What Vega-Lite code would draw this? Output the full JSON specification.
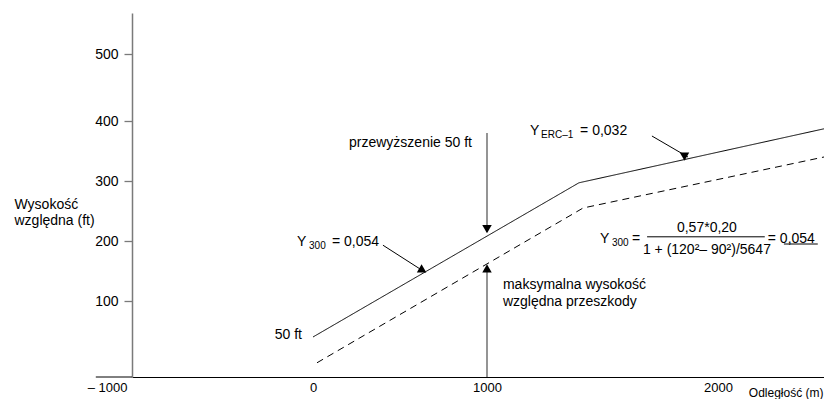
{
  "$schema": "https://vega.github.io/schema/vega-lite/v6.json",
  "width": 692,
  "height": 364,
  "autosize": {"type": "none"},
  "padding": {"left": 132, "top": 13, "right": 0, "bottom": 22},
  "background": "white",
  "config": {
    "view": {"stroke": null},
    "font": "Liberation Sans",
    "text": {"font": "Liberation Sans"}
  },
  "datasets": {
    "lines": [
      {"series": "solid", "x": 0, "y": 40},
      {"series": "solid", "x": 1398, "y": 297},
      {"series": "solid", "x": 2460, "y": 387},
      {"series": "dashed", "x": 23, "y": -3},
      {"series": "dashed", "x": 1416, "y": 255},
      {"series": "dashed", "x": 2460, "y": 340}
    ],
    "segs": [
      {"kind": "gray", "x": 1000, "x2": 1000, "y": 380, "y2": 215},
      {"kind": "gray", "x": 1000, "x2": 1000, "y": -27, "y2": 158},
      {"kind": "black", "x": 402, "x2": 644, "y": 193, "y2": 148},
      {"kind": "black", "x": 1714, "x2": 1870, "y": 375, "y2": 340},
      {"kind": "black", "x": 1693, "x2": 2203, "y": 207, "y2": 207},
      {"kind": "black", "x": 2286, "x2": 2433, "y": 195, "y2": 195},
      {"kind": "black", "x": -1200, "x2": -1000, "y": -27, "y2": -27}
    ],
    "heads": [
      {"dir": "down", "x": 1000, "y": 222},
      {"dir": "up", "x": 1000, "y": 152},
      {"dir": "y300", "x": 624, "y": 152},
      {"dir": "erc", "x": 1855, "y": 343}
    ],
    "labels": [
      {"role": "left", "x": 207, "y": 363, "text": "przewyższenie 50 ft"},
      {"role": "right", "x": -61, "y": 43, "text": "50 ft"},
      {"role": "left", "x": -88, "y": 198, "text": "Y"},
      {"role": "sub", "x": -22, "y": 192, "text": "300"},
      {"role": "left", "x": 109, "y": 198, "text": "= 0,054"},
      {"role": "left", "x": 1186, "y": 383, "text": "Y"},
      {"role": "sub", "x": 1234, "y": 377, "text": "ERC–1"},
      {"role": "left", "x": 1403, "y": 383, "text": "= 0,032"},
      {"role": "left", "x": 1489, "y": 203, "text": "Y"},
      {"role": "sub", "x": 1541, "y": 196, "text": "300"},
      {"role": "left", "x": 1628, "y": 203, "text": "="},
      {"role": "center", "x": 1952, "y": 222, "text": "0,57*0,20"},
      {"role": "center", "x": 1952, "y": 185, "text": "1 + (120²– 90²)/5647"},
      {"role": "left", "x": 2216, "y": 203, "text": "= 0,054"},
      {"role": "left", "x": 1069, "y": 127, "text": "maksymalna wysokość"},
      {"role": "left", "x": 1069, "y": 98, "text": "względna przeszkody"}
    ]
  },
  "layer": [
    {
      "data": {"name": "lines"},
      "mark": {"type": "line", "color": "black", "strokeWidth": 1},
      "encoding": {
        "x": {
          "field": "x", "type": "quantitative",
          "scale": {"type": "linear", "domain": [-1000, 0, 1000, 2000, 2460], "range": [0, 181, 355, 586, 692], "zero": false, "nice": false},
          "axis": {
            "values": [-1000, 0, 1000, 2000],
            "format": "d",
            "labelExpr": "datum.value == -1000 ? '– 1000' : datum.label",
            "labelAlign": {"condition": {"test": "datum.value == -1000", "value": "right"}, "value": "center"},
            "labelOffset": {"condition": {"test": "datum.value == -1000", "value": -5}, "value": 0},
            "labelFontSize": 13, "labelColor": "black", "labelPadding": 4,
            "labelFlush": false, "labelOverlap": false, "labelBaseline": "top",
            "ticks": false, "tickSize": 0, "grid": false,
            "domainColor": "black", "domainWidth": 1,
            "title": "Odległość (m)", "titleFontSize": 12, "titleFontWeight": "normal", "titleColor": "black",
            "titleAlign": "right", "titleBaseline": "middle", "titleX": 691, "titleY": 15
          }
        },
        "y": {
          "field": "y", "type": "quantitative",
          "scale": {"domain": [-27, 0, 100, 200, 300, 400, 500, 560], "range": [364, 348, 288, 228, 168, 108, 41, 0], "zero": false, "nice": false},
          "axis": {
            "values": [100, 200, 300, 400, 500],
            "labelFontSize": 14, "labelColor": "black", "labelPadding": 6,
            "tickSize": 8, "tickColor": "#7a7a7a", "tickWidth": 1.3,
            "domainColor": "#7a7a7a", "domainWidth": 1.5, "grid": false,
            "title": ["Wysokość", "względna (ft)"], "titleFontSize": 14, "titleFontWeight": "normal", "titleColor": "black",
            "titleAngle": 0, "titleAlign": "left", "titleBaseline": "middle", "titleX": -118, "titleY": 191, "titleLineHeight": 16
          }
        },
        "strokeDash": {
          "field": "series", "type": "nominal",
          "scale": {"domain": ["solid", "dashed"], "range": [[1, 0], [7, 5]]},
          "legend": null
        }
      }
    },
    {
      "data": {"name": "segs"},
      "transform": [{"filter": "datum.kind == 'gray'"}],
      "mark": {"type": "rule", "color": "#7a7a7a", "strokeWidth": 1.6},
      "encoding": {
        "x": {"field": "x", "type": "quantitative"},
        "x2": {"field": "x2"},
        "y": {"field": "y", "type": "quantitative"},
        "y2": {"field": "y2"}
      }
    },
    {
      "data": {"name": "segs"},
      "transform": [{"filter": "datum.kind == 'black'"}],
      "mark": {"type": "rule", "color": "black", "strokeWidth": 1},
      "encoding": {
        "x": {"field": "x", "type": "quantitative"},
        "x2": {"field": "x2"},
        "y": {"field": "y", "type": "quantitative"},
        "y2": {"field": "y2"}
      }
    },
    {
      "data": {"name": "heads"},
      "mark": {"type": "point", "shape": "triangle", "filled": true, "color": "black", "opacity": 1, "size": 90},
      "encoding": {
        "x": {"field": "x", "type": "quantitative"},
        "y": {"field": "y", "type": "quantitative"},
        "angle": {"field": "dir", "type": "nominal", "scale": {"domain": ["up", "down", "y300", "erc"], "range": [0, 180, 123, 120]}, "legend": null}
      }
    },
    {
      "data": {"name": "labels"},
      "transform": [{"filter": "datum.role == 'left'"}],
      "mark": {"type": "text", "align": "left", "baseline": "middle", "fontSize": 14, "color": "black"},
      "encoding": {
        "x": {"field": "x", "type": "quantitative"},
        "y": {"field": "y", "type": "quantitative"},
        "text": {"field": "text"}
      }
    },
    {
      "data": {"name": "labels"},
      "transform": [{"filter": "datum.role == 'center'"}],
      "mark": {"type": "text", "align": "center", "baseline": "middle", "fontSize": 14, "color": "black"},
      "encoding": {
        "x": {"field": "x", "type": "quantitative"},
        "y": {"field": "y", "type": "quantitative"},
        "text": {"field": "text"}
      }
    },
    {
      "data": {"name": "labels"},
      "transform": [{"filter": "datum.role == 'right'"}],
      "mark": {"type": "text", "align": "right", "baseline": "middle", "fontSize": 14, "color": "black"},
      "encoding": {
        "x": {"field": "x", "type": "quantitative"},
        "y": {"field": "y", "type": "quantitative"},
        "text": {"field": "text"}
      }
    },
    {
      "data": {"name": "labels"},
      "transform": [{"filter": "datum.role == 'sub'"}],
      "mark": {"type": "text", "align": "left", "baseline": "middle", "fontSize": 10, "color": "black"},
      "encoding": {
        "x": {"field": "x", "type": "quantitative"},
        "y": {"field": "y", "type": "quantitative"},
        "text": {"field": "text"}
      }
    }
  ]
}
